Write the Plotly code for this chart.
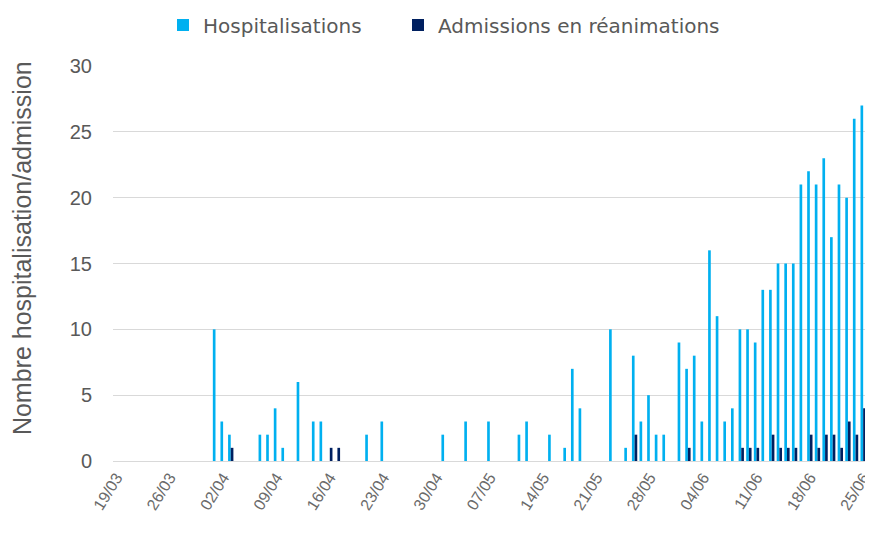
import plotly.graph_objects as go

# Données (jours sans valeur omis)
dates = ['01/04', '02/04', '03/04', '07/04', '08/04', '09/04', '10/04', '12/04',
         '14/04', '15/04', '16/04', '17/04', '21/04', '23/04', '01/05', '04/05',
         '07/05', '11/05', '12/05', '15/05', '17/05', '18/05', '19/05', '23/05',
         '25/05', '26/05', '27/05', '28/05', '29/05', '30/05', '01/06', '02/06',
         '03/06', '04/06', '05/06', '06/06', '07/06', '08/06', '09/06', '10/06',
         '11/06', '12/06', '13/06', '14/06', '15/06', '16/06', '17/06', '18/06',
         '19/06', '20/06', '21/06', '22/06', '23/06', '24/06', '25/06']
hospitalisations = [10, 3, 2, 2, 2, 4, 1, 6,
                    3, 3, 0, 0, 2, 3, 2, 3,
                    3, 2, 3, 2, 1, 7, 4, 10,
                    1, 8, 3, 5, 2, 2, 9, 7,
                    8, 3, 16, 11, 3, 4, 10, 10,
                    9, 13, 13, 15, 15, 15, 21, 22,
                    21, 23, 17, 21, 20, 26, 27]
reanimations = [0, 0, 1, 0, 0, 0, 0, 0,
                0, 0, 1, 1, 0, 0, 0, 0,
                0, 0, 0, 0, 0, 0, 0, 0,
                0, 2, 0, 0, 0, 0, 0, 1,
                0, 0, 0, 0, 0, 0, 1, 1,
                1, 0, 2, 1, 1, 1, 0, 2,
                1, 2, 2, 1, 3, 2, 4]
y_ticks = [0, 5, 10, 15, 20, 25, 30]

annee = '2021'
x = [f"{annee}-{d[3:5]}-{d[0:2]}" for d in dates]

gris = '#595959'
police = 'Liberation Sans, Arial, sans-serif'
police_legende = dict(family='DejaVu Sans, sans-serif', size=20, color=gris)

fig = go.Figure()
fig.add_trace(go.Bar(x=x, y=hospitalisations, name='Hospitalisations',
                     marker=dict(color='#00B0F0', line=dict(width=0)),
                     legend='legend'))
fig.add_trace(go.Bar(x=x, y=reanimations, name='Admissions en réanimations',
                     marker=dict(color='#002060', line=dict(width=0)),
                     legend='legend2'))

fig.update_layout(
    width=857, height=520,
    margin=dict(l=105, r=0, t=58, b=67, autoexpand=False),
    paper_bgcolor='white', plot_bgcolor='white',
    barmode='group', bargap=0.3, bargroupgap=0,
    font=dict(family=police, color=gris, size=14),
    legend=dict(orientation='h', xref='container', yref='container',
                x=155 / 857, xanchor='left', y=1 - 17 / 520, yanchor='middle',
                font=police_legende, itemwidth=30),
    legend2=dict(orientation='h', xref='container', yref='container',
                 x=390 / 857, xanchor='left', y=1 - 17 / 520, yanchor='middle',
                 font=police_legende, itemwidth=30),
    showlegend=True,
)
fig.add_annotation(text='Nombre hospitalisation/admission', textangle=-90,
                   xref='paper', yref='paper', x=-0.121, y=0.539,
                   xanchor='center', yanchor='middle',
                   showarrow=False, font=dict(size=25, color=gris))
fig.update_xaxes(
    type='date', automargin=False,
    range=[f'{annee}-03-18 13:10', f'{annee}-06-25 05:45'],
    tick0=f'{annee}-03-19', dtick=7 * 86400000, tickformat='%d/%m',
    tickangle=-58, tickfont=dict(size=16, color='#6a6a6a'),
    ticklabeloverflow='allow',
    showgrid=False, showline=True, linecolor='#d9d9d9', linewidth=1,
    ticks='', zeroline=False,
)
fig.update_yaxes(
    range=[0, 30], tickvals=y_ticks, tickfont=dict(size=20, color=gris),
    automargin=False,
    showgrid=True, gridcolor='#d9d9d9', gridwidth=1,
    zeroline=False, showline=False, ticks='', ticklabelstandoff=20,
)

fig.write_html("out.html")
